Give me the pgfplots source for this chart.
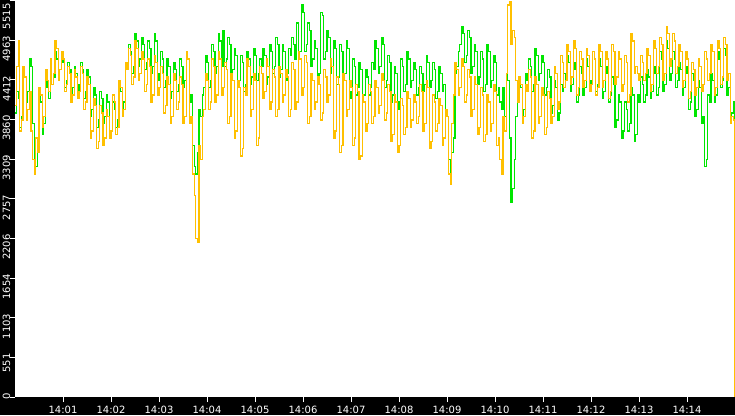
\documentclass[border=0pt]{standalone}
\usepackage{fontspec}
\setmainfont{DejaVu Sans}
\usepackage{pgfplots}
\usepackage{pgfplotstable}
\pgfplotsset{compat=1.18}
\definecolor{sgreen}{RGB}{0,230,0}
\definecolor{sorange}{RGB}{255,192,0}
\pgfplotstableread{
t g o
0 3950 4050
2 4250 4600
4 4150 4950
6 3750 3700
8 3900 3850
10 4550 4600
12 4450 4450
14 4100 3850
16 4250 4000
18 4700 4250
20 4600 3700
22 3800 3300
24 3300 3100
26 3200 3600
28 3600 3400
30 4200 4300
32 4100 4200
34 3650 3750
36 3800 3900
38 4400 4550
40 4300 4400
42 4150 4250
44 4600 4700
46 4350 4350
48 4450 4500
50 4800 4950
52 4700 4850
54 4450 4400
56 4550 4550
58 4800 4800
60 4650 4700
62 4300 4250
64 4400 4350
66 4650 4600
68 4550 4500
70 4200 4100
72 4300 4200
74 4600 4550
76 4500 4450
78 4250 4150
80 4350 4250
82 4650 4600
84 4550 4500
86 4150 4000
88 4250 4100
90 4550 4450
92 4450 4350
94 3900 3600
96 4000 3700
98 4300 4150
100 4200 4050
102 3750 3450
104 3850 3550
106 4250 4050
108 4150 3950
110 3800 3500
112 3900 3600
114 4200 4000
116 4100 3900
118 3600 3600
120 3700 3700
122 4100 4200
124 4000 4100
126 3750 3650
128 3850 3750
130 4350 4400
132 4250 4300
134 4000 3900
136 4100 4000
138 4650 4650
140 4550 4550
142 4900 4850
144 4800 4750
146 4500 4350
148 4600 4450
150 5050 4950
152 4950 4850
154 4600 4400
156 4700 4500
158 5000 4800
160 4900 4700
162 4550 4250
164 4650 4350
166 4950 4700
168 4850 4600
170 4500 4100
172 4600 4200
174 5050 4750
176 4950 4650
178 4400 4200
180 4500 4300
182 4800 4600
184 4700 4500
186 4300 3950
188 4400 4050
190 4700 4450
192 4600 4350
194 4150 3800
196 4250 3900
198 4650 4500
200 4550 4400
202 4250 4000
204 4350 4100
206 4700 4450
208 4600 4350
210 4300 3800
212 4400 3900
214 4800 4800
216 4700 4700
218 4100 3800
220 4200 3900
222 3500 3100
224 3200 2800
226 3100 2200
228 3400 2150
230 4000 3500
232 3900 3300
234 4200 3900
236 4300 4000
238 4750 4500
240 4650 4400
242 4300 4000
244 4400 4100
246 4900 4700
248 4800 4600
250 4500 4100
252 4600 4200
254 5050 4800
256 4950 4700
258 4600 4200
260 5100 4300
262 4600 4650
264 4700 4550
266 5000 3800
268 4900 3900
270 4450 4500
272 4550 4400
274 4850 3600
276 4750 3700
278 4300 4400
280 4400 4300
282 4750 3350
284 4650 3450
286 4250 4300
288 4350 4200
290 4800 4700
292 4700 4600
294 4350 3900
296 4450 4000
298 4850 4500
300 4750 4400
302 4400 3500
304 4500 3600
306 4700 4600
308 4600 4500
310 4850 4150
312 4750 4250
314 4350 4700
316 4450 4600
318 4900 4000
320 4800 4100
322 4500 4550
324 4600 4450
326 5000 3900
328 4900 4000
330 4450 4600
332 4550 4500
334 4900 4100
336 4800 4200
338 4400 4550
340 4500 4450
342 4850 3900
344 4750 4000
346 5000 4650
348 4900 4550
350 4700 4000
352 5200 4100
354 4700 4800
356 4800 4700
358 5450 4200
360 5350 4300
362 4800 4750
364 4900 4650
366 5200 3800
368 5100 3900
370 4600 4500
372 4700 4400
374 4950 4000
376 4850 4100
378 4400 4450
380 4500 4350
382 5350 3850
384 5300 3950
386 4700 4550
388 4800 4450
390 5100 4100
392 5000 4200
394 4500 4700
396 4600 4600
398 4950 3600
400 4850 3700
402 4350 4450
404 4450 4350
406 4900 3400
408 4800 3500
410 4400 4500
412 4500 4400
414 4950 3900
416 4850 4000
418 4150 4400
420 4250 4300
422 4700 3500
424 4600 3600
426 4200 4350
428 4300 4250
430 4650 3300
432 4550 3350
434 4100 4200
436 4200 4100
438 4550 3700
440 4450 3800
442 4200 4350
444 4300 4250
446 4650 3800
448 4550 3900
450 4950 4400
452 4850 4300
454 4500 3950
456 4600 4050
458 5000 4500
460 4900 4400
462 4300 3850
464 4400 3950
466 4750 4350
468 4650 4250
470 4100 3550
472 4200 3650
474 4600 4200
476 4500 4100
478 4000 3400
480 4100 3500
482 4700 4150
484 4600 4050
486 4250 3650
488 4350 3750
490 4800 4250
492 4700 4150
494 4300 3750
496 4400 3850
498 4650 4200
500 4550 4100
502 4200 3800
504 4300 3900
506 4600 4350
508 4500 4250
510 4250 3700
512 4350 3800
514 4750 4400
516 4650 4300
518 4300 3450
520 4400 3550
522 4650 4200
524 4550 4100
526 4150 3700
528 4250 3800
530 4600 4150
532 4500 4050
534 4250 3500
536 4350 3600
538 4000 4000
540 3900 3900
542 3300 3100
544 3000 2950
546 3400 3800
548 3600 4200
550 4500 4650
552 4600 4550
554 4800 4200
556 4900 4300
558 5150 4700
560 5050 4600
562 4650 4100
564 4750 4200
566 5100 4550
568 5000 4450
570 4500 3900
572 4600 4000
574 4900 4450
576 4800 4350
578 4350 3650
580 4450 3750
582 4800 4300
584 4700 4200
586 4250 3550
588 4350 3650
590 4900 4200
592 4800 4100
594 4300 3700
596 4400 3800
598 4750 4350
600 4650 4250
602 4200 3500
604 4300 3600
606 4100 3300
608 4000 3100
610 4300 3900
612 3900 3700
614 4500 4500
616 4400 5450
618 3600 5500
620 2700 4900
622 2900 5100
624 3300 5000
626 3900 4400
628 4100 4100
630 4400 4450
632 4300 4350
634 3900 3800
636 4000 3900
638 4500 4350
640 4400 4250
642 4700 4550
644 4600 4450
646 4250 3600
648 4350 3700
650 4850 4450
652 4750 4350
654 4400 3800
656 4500 3900
658 4750 4300
660 4650 4200
662 4200 3650
664 4300 3750
666 4550 4250
668 4450 4150
670 3950 3800
672 4050 3900
674 4400 4600
676 4300 4500
678 3850 4000
680 3950 4100
682 4350 4750
684 4250 4650
686 4500 4300
688 4400 4400
690 4750 4900
692 4650 4800
694 4250 4350
696 4350 4450
698 4650 4950
700 4550 4850
702 4100 4200
704 4200 4300
706 4600 4800
708 4500 4700
710 4200 4300
712 4300 4400
714 4700 4850
716 4600 4750
718 4300 4250
720 4400 4350
722 4800 4800
724 4700 4700
726 4250 4200
728 4350 4300
730 4700 4900
732 4600 4800
734 4150 4300
736 4250 4400
738 4600 4800
740 4500 4700
742 4100 4150
744 4200 4250
746 4450 4900
748 4350 4800
750 3750 4350
752 3850 4450
754 4200 4800
756 4100 4700
758 3600 4250
760 3700 4350
762 4100 4750
764 4000 4650
766 3700 4100
768 3800 4200
770 4300 5050
772 4200 4950
774 3550 4500
776 3650 4600
778 4200 4500
780 4100 4400
782 4450 4750
784 4350 4650
786 4100 4400
788 4200 4500
790 4550 4850
792 4450 4750
794 4150 4250
796 4250 4350
798 4600 4950
800 4500 4850
802 4200 4500
804 4300 4600
806 4800 5000
808 4700 4900
810 4250 4400
812 4350 4500
814 4950 5150
816 4850 5050
818 4400 4600
820 4500 4700
822 4800 5050
824 4700 4950
826 4300 4500
828 4400 4600
830 4650 4900
832 4550 4800
834 4200 4300
836 4300 4400
838 4600 4800
840 4500 4700
842 4000 4150
844 4100 4250
846 4500 4650
848 4400 4550
850 3900 4200
852 4000 4300
854 4400 4700
856 4300 4600
858 3800 4250
860 3900 4350
862 3200 4800
864 3300 4700
866 4200 4400
868 4100 4500
870 4500 4900
872 4400 4800
874 4100 4200
876 4200 4300
878 4800 4950
880 4700 4850
882 4300 4350
884 4400 4450
886 4850 5000
888 4750 4900
890 4200 4400
892 4300 4500
894 3850 3800
896 3950 3900
898 4100 3850
900 2150 0
}\datatable
\begin{document}
\begin{tikzpicture}
\useasboundingbox (-15pt,-18pt) rectangle (720pt,397pt);
\fill[black] (-15pt,-18pt) rectangle (720pt,397pt);
\begin{axis}[
  at={(0pt,0pt)}, anchor=south west,
  scale only axis, width=720pt, height=397pt,
  xmin=0, xmax=900, ymin=0, ymax=5520,
  axis background/.style={fill=white},
  axis line style={draw=none},
  tick align=outside,
  major tick length=5pt,
  tick style={white, line width=1pt},
  xtick={60,120,180,240,300,360,420,480,540,600,660,720,780,840},
  xticklabels={14:01,14:02,14:03,14:04,14:05,14:06,14:07,14:08,14:09,14:10,14:11,14:12,14:13,14:14},
  ytick={0,551.5,1103,1654.5,2206,2757.5,3309,3860.5,4412,4963.5,5515},
  yticklabels={0,551,1103,1654,2206,2757,3309,3860,4412,4963,{5515\hspace*{7pt}}},
  ticklabel style={font=\fontsize{10}{11}\selectfont, text=white, inner sep=0pt},
  xticklabel style={anchor=north, yshift=-4pt},
  yticklabel style={xshift=0.5pt, yshift=4pt, rotate=90, anchor=south east},
  clip=true,
]
\addplot[sgreen, line width=1.25pt, const plot] table[x=t, y=g] {\datatable};
\addplot[sorange, line width=1.25pt, const plot] table[x=t, y=o] {\datatable};
\end{axis}
\end{tikzpicture}
\end{document}
